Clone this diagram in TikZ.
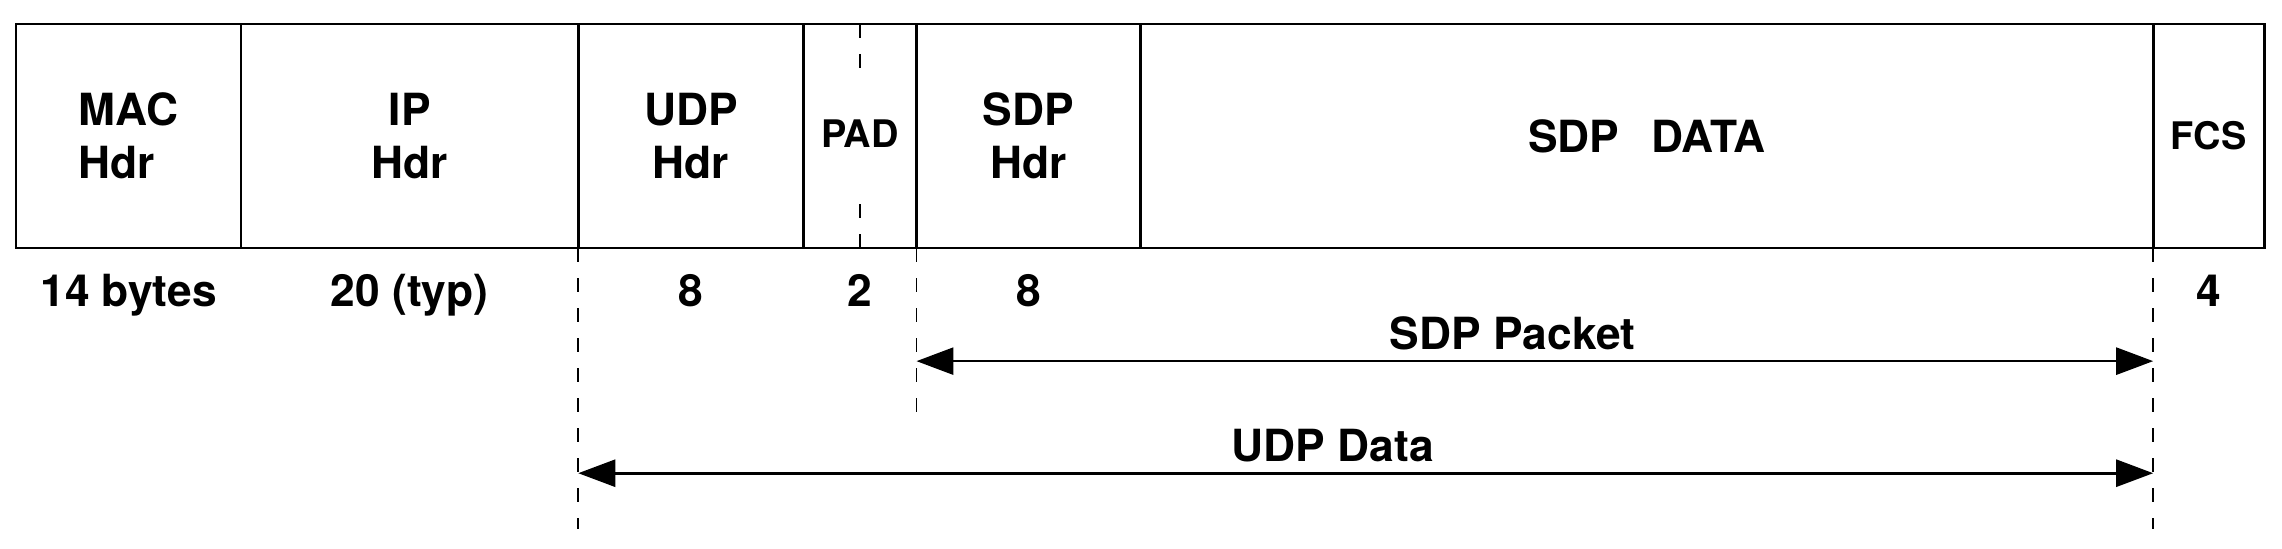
\documentclass[tikz,border=0pt]{standalone}
\usepackage{fontspec}
\setmainfont{TeX Gyre Heros}
\usetikzlibrary{positioning, arrows.meta, calc}

\tikzset{
  field/.style={draw, line width=0.027cm, outer sep=0pt, inner sep=0pt,
    minimum height=2.24cm, align=center, font=\bfseries\fontsize{12.6}{15.1}\selectfont},
  small/.style={font=\bfseries\fontsize{10.8}{13}\selectfont},
  size/.style={anchor=base, inner sep=0pt, font=\bfseries\fontsize{12.6}{15.1}\selectfont},
  guide/.style={dash pattern=on 0.14cm off 0.16cm, line width=0.017cm},
  span/.style={{Triangle[length=0.37cm,width=0.27cm]}-{Triangle[length=0.37cm,width=0.27cm]},
    line width=0.027cm},
  spanlbl/.style={above=0.1cm, inner sep=0pt, font=\bfseries\fontsize{12.6}{15.1}\selectfont},
}

\begin{document}
\begin{tikzpicture}[x=0.01cm, y=-0.01cm, node distance=0pt]
    \useasboundingbox (0,0) rectangle (2282,548);

    % the frame
    \node[field, minimum width=2.25cm, align=left] (mac) at (128.5,136) {MAC\\Hdr};
    \node[field, minimum width=3.37cm, right=of mac] (ip) {IP\\Hdr};
    \node[field, minimum width=2.25cm, right=of ip] (udp) {UDP\\Hdr};
    \node[field, minimum width=1.13cm, right=of udp] (pad) {};
    \node[field, minimum width=2.24cm, right=of pad] (sdph) {SDP\\Hdr};
    \node[field, minimum width=10.12cm, right=of sdph] (data) {SDP\hspace{0.32cm}DATA};
    \node[field, small, minimum width=1.11cm, right=of data] (fcs) {FCS};

    \draw[guide] (pad.north) -- (pad.south);
    \node[small, fill=white, inner sep=0pt, minimum height=1.17cm] (padlbl)
        at ([yshift=0.02cm]pad.center) {PAD};

    % sizes
    \node[size] (macn) at ([yshift=-0.58cm]mac.south) {14 bytes};
    \node[size] (ipn) at ([yshift=-0.58cm]ip.south) {20 (typ)};
    \node[size] (udpn) at ([yshift=-0.58cm]udp.south) {8};
    \node[size] (padn) at ([yshift=-0.58cm]pad.south) {2};
    \node[size] (sdphn) at ([yshift=-0.58cm]sdph.south) {8};
    \node[size] (fcsn) at ([yshift=-0.58cm]fcs.south) {4};

    % spans
    \coordinate (udpend) at ([yshift=-2.81cm]udp.south west);
    \coordinate (sdpend) at ([yshift=-1.65cm]sdph.south west);
    \coordinate (fcsend) at ([yshift=-2.81cm]fcs.south west);
    \draw[guide] (udp.south west) -- (udpend);
    \draw[guide] (sdph.south west) -- (sdpend);
    \draw[guide] (fcs.south west) -- (fcsend);

    \coordinate (pktl) at ([yshift=-1.13cm]sdph.south west);
    \coordinate (pktr) at ([yshift=-1.13cm]fcs.south west);
    \coordinate (udpl) at ([yshift=-2.25cm]udp.south west);
    \coordinate (udpr) at ([yshift=-2.25cm]fcs.south west);
    \draw[span] (pktl) -- node[spanlbl, pos=0.482] {SDP Packet} (pktr);
    \draw[span] (udpl) -- node[spanlbl, pos=0.479] {UDP Data} (udpr);
\end{tikzpicture}
\end{document}
